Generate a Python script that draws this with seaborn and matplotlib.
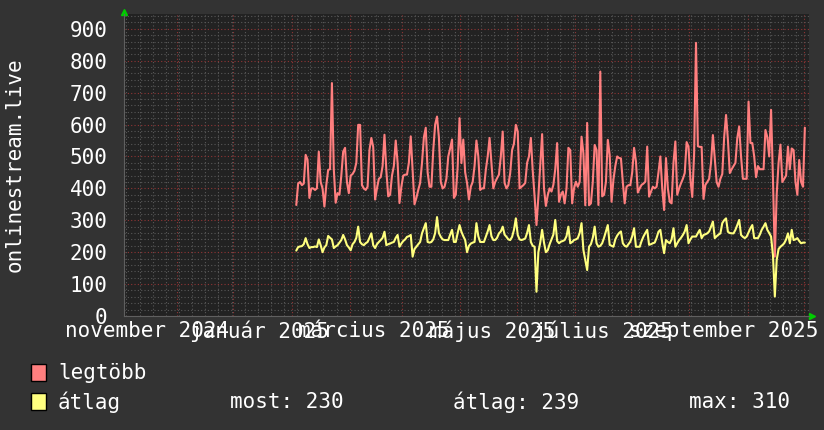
import numpy as np
import pandas as pd
import matplotlib
matplotlib.use("Agg")
import matplotlib.pyplot as plt
import matplotlib.dates as mdates
from matplotlib.patches import Rectangle
import seaborn as sns

# daily values, first day 2025-01-03
legtobb = [
    348, 415, 420, 410, 415, 505, 490, 370, 400, 400,
    395, 400, 515, 420, 400, 343, 410, 458, 460, 730,
    460, 355, 385, 380, 440, 515, 527, 420, 385, 440,
    445, 455, 480, 599, 599, 410, 400, 395, 405, 520,
    558, 530, 365, 400, 430, 435, 470, 568, 455, 375,
    380, 440, 470, 550, 480, 354, 405, 440, 443, 443,
    480, 563, 455, 350, 370, 395, 417, 480, 560, 590,
    450, 405, 405, 520, 600, 625, 560, 420, 400, 405,
    430, 500, 525, 553, 370, 380, 468, 620, 479, 553,
    450, 417, 365, 405, 420, 470, 550, 500, 395, 400,
    400, 458, 500, 558, 480, 400, 420, 432, 443, 500,
    578, 417, 400, 410, 448, 520, 540, 599, 578, 400,
    405, 410, 417, 480, 500, 558, 455, 374, 285, 374,
    470, 570, 400, 345, 379, 400, 390, 411, 460, 542,
    358, 380, 390, 353, 400, 527, 520, 353, 400, 421,
    405, 420, 562, 510, 347, 605, 347, 353, 420, 536,
    520, 348, 766, 375, 380, 420, 552, 505, 358, 427,
    470, 500, 495, 494, 420, 353, 405, 410, 410, 450,
    527, 484, 387, 400, 411, 415, 421, 531, 374, 390,
    405, 400, 405, 450, 500, 400, 332, 495, 400, 358,
    353, 480, 547, 380, 400, 416, 430, 448, 545, 530,
    430, 373, 510, 856, 532, 530, 530, 367, 411, 420,
    430, 480, 567, 495, 420, 405, 430, 445, 560, 630,
    552, 448, 460, 470, 480, 558, 594, 500, 430, 430,
    430, 672, 542, 542, 500, 435, 470, 460, 460, 460,
    583, 560, 500, 646, 430, 186, 382, 480, 537, 420,
    430, 440, 531, 460, 525, 520, 420, 380, 489, 420,
    405, 590,
]
atlag = [
    205, 216, 218, 219, 225, 244, 225, 213, 216, 216,
    218, 216, 240, 222, 200, 215, 222, 251, 245, 240,
    213, 218, 222, 230, 238, 254, 240, 222, 215, 206,
    225, 232, 245, 280, 232, 225, 222, 228, 232, 245,
    259, 222, 213, 225, 232, 238, 245, 264, 222, 225,
    227, 230, 232, 245, 254, 217, 227, 235, 240, 248,
    250, 254, 186, 210, 217, 225, 232, 259, 275, 291,
    232, 230, 232, 240, 260, 310, 260, 248, 240, 238,
    238, 238, 255, 270, 232, 232, 260, 285, 264, 250,
    238, 200, 220, 227, 230, 232, 291, 250, 232, 232,
    232, 248, 265, 285, 250, 238, 238, 245, 259, 265,
    280, 255, 248, 240, 238, 248, 270, 306, 254, 240,
    238, 240, 243, 260, 285, 232, 220, 217, 76, 200,
    230, 270, 230, 200, 206, 225, 240, 255, 301, 235,
    228, 233, 235, 238, 250, 280, 228, 232, 238, 240,
    244, 260, 291, 207, 175, 144, 217, 225, 245, 280,
    228, 217, 220, 228, 245, 265, 285, 223, 220, 217,
    240, 252, 260, 265, 228, 220, 217, 225, 233, 250,
    275, 217, 217, 217, 235, 249, 260, 270, 223, 225,
    228, 230, 245, 264, 270, 230, 197, 238, 232, 228,
    240, 275, 217, 228, 238, 245, 254, 265, 285, 228,
    240, 249, 249, 249, 260, 270, 244, 254, 256, 259,
    265, 280, 296, 244, 250, 255, 259, 291, 300, 306,
    264, 260, 259, 259, 270, 285, 301, 254, 248, 244,
    249, 262, 275, 285, 244, 244, 244, 255, 270, 280,
    291, 270, 260, 249, 191, 61, 176, 210, 217, 222,
    228, 240, 259, 228, 270, 238, 240, 244, 235, 228,
    230, 230,
]
label_dates = ["2024-10-16", "2024-12-15", "2025-02-14", "2025-04-18", "2025-06-16", "2025-08-19"]
label_texts = ["november 2024", "január 2025", "március 2025", "május 2025", "július 2025", "szeptember 2025"]
stat_most, stat_atlag, stat_max = 230, 239, 310

BG = "#333333"
PLOT_BG = "#222222"
RED = "#ff7f7f"
YELLOW = "#ffff7f"

sns.set_style("dark")
plt.rcParams["font.family"] = ["DejaVu Sans Mono", "DejaVu Sans"]

dates = pd.date_range("2025-01-03 12:00", periods=len(legtobb), freq="D")
df = pd.DataFrame({"date": dates, "legtöbb": legtobb, "átlag": atlag})

fig = plt.figure(figsize=(8.24, 4.30), dpi=100, facecolor=BG)
ax = fig.add_axes([124 / 824, 1 - 316 / 430, 685 / 824, 302.5 / 430])
ax.set_facecolor(PLOT_BG)

sns.lineplot(data=df, x="date", y="legtöbb", ax=ax, color=RED, lw=1.5, zorder=5)
sns.lineplot(data=df, x="date", y="átlag", ax=ax, color=YELLOW, lw=1.5, zorder=6)

ax.set_xlim(pd.Timestamp("2024-10-03 17:00"), pd.Timestamp("2025-10-03 17:00"))
ax.set_ylim(0, 948)

# grid: weekly / monthly vertical, 20 / 100 horizontal
ax.xaxis.set_major_locator(mdates.MonthLocator())
ax.xaxis.set_minor_locator(mdates.WeekdayLocator(byweekday=mdates.SA))
ax.yaxis.set_major_locator(matplotlib.ticker.MultipleLocator(100))
ax.yaxis.set_minor_locator(matplotlib.ticker.MultipleLocator(20))
ax.grid(which="minor", color="#585858", lw=0.8, ls=(0, (1, 2)), zorder=1)
ax.grid(which="major", color="#903535", lw=0.8, ls=(0, (1, 2)), zorder=2)
ax.set_axisbelow(True)
ax.xaxis.set_major_formatter(matplotlib.ticker.NullFormatter())
ax.tick_params(axis="x", which="both", length=0)
ax.tick_params(axis="y", which="both", length=0, labelsize=15, labelcolor="white", pad=12)
ax.set_xlabel("")
ax.set_ylabel("")

for d, t in zip(label_dates, label_texts):
    ax.text(pd.Timestamp(d), -0.05, t, transform=ax.get_xaxis_transform(),
            ha="center", va="center", fontsize=15, color="white", clip_on=False)

for s in ["top", "right"]:
    ax.spines[s].set_visible(False)
for s in ["left", "bottom"]:
    ax.spines[s].set_color("#606060")
    ax.spines[s].set_linewidth(0.8)

# rrd style arrows
ax.plot([0], [1.005], marker="^", color="#00cc00", ms=5, transform=ax.transAxes, clip_on=False)
ax.plot([1.005], [0], marker=">", color="#00cc00", ms=5, transform=ax.transAxes, clip_on=False)

fig.text(15 / 824, 1 - 165 / 430, "onlinestream.live", rotation=90, ha="center", va="center",
         fontsize=15, color="white")

# legend
for i, (c, name) in enumerate([(RED, "legtöbb"), (YELLOW, "átlag")]):
    ytop = 364 + i * 29
    fig.patches.append(Rectangle((31 / 824, 1 - (ytop + 17) / 430), 15 / 824, 17 / 430,
                                 transform=fig.transFigure, facecolor=c, edgecolor="black", lw=1))
    fig.text(58 / 824, 1 - (ytop + 9) / 430, name, ha="left", va="center", fontsize=15, color="white")

row_y = 1 - 402 / 430
fig.text(230 / 824, row_y, f"most: {stat_most}", ha="left", va="center", fontsize=15, color="white")
fig.text(453 / 824, row_y, f"átlag: {stat_atlag}", ha="left", va="center", fontsize=15, color="white")
fig.text(689 / 824, row_y, f"max: {stat_max}", ha="left", va="center", fontsize=15, color="white")

fig.savefig("out.png", dpi=100, facecolor=BG)
